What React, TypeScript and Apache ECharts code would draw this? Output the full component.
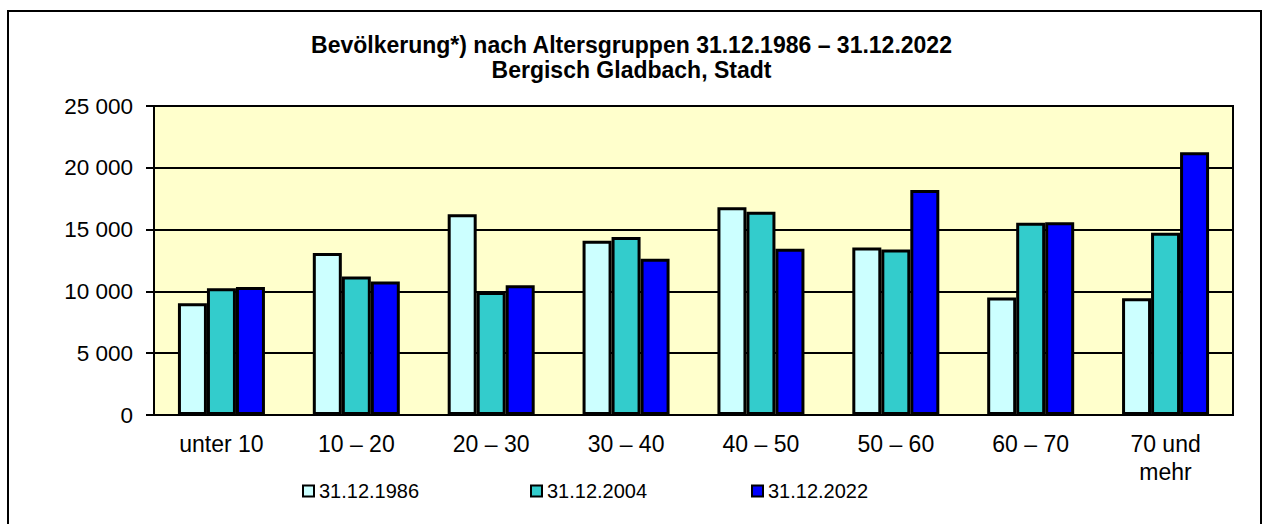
import React, { useEffect, useRef } from "react";
import * as echarts from "echarts";

const categories = ["unter 10", "10 – 20", "20 – 30", "30 – 40", "40 – 50", "50 – 60", "60 – 70", "70 und\nmehr"];
const seriesNames = ["31.12.1986", "31.12.2004", "31.12.2022"];
const values1986 = [9050, 13100, 16250, 14100, 16800, 13550, 9500, 9450];
const values2004 = [10250, 11200, 9950, 14400, 16450, 13400, 15550, 14750];
const values2022 = [10350, 10800, 10500, 12650, 13450, 18200, 15600, 21250];
const colors = ["#CCFFFF", "#33CCCC", "#0000FF"];
const yTicks = { min: 0, max: 25000, interval: 5000 };

const FONT = "'Liberation Sans', Arial, sans-serif";

export default function App() {
  const ref = useRef<HTMLDivElement>(null);
  useEffect(() => {
    if (!ref.current) return;
    const chart = echarts.init(ref.current, null, { renderer: "svg" });
    const data = [values1986, values2004, values2022];
    const legendLefts = [302, 530, 751];
    chart.setOption({
      animation: false,
      backgroundColor: "#FFFFFF",
      textStyle: { fontFamily: FONT },
      title: {
        text: "Bevölkerung*) nach Altersgruppen 31.12.1986 – 31.12.2022\nBergisch Gladbach, Stadt",
        left: "center",
        top: 32,
        padding: 0,
        textStyle: { fontFamily: FONT, fontSize: 23, fontWeight: "bold", color: "#000", lineHeight: 25 },
      },
      legend: seriesNames.map((n, i) => ({
        data: [n],
        left: legendLefts[i],
        top: 481,
        padding: 0,
        itemWidth: 11,
        itemHeight: 11,
        icon: "rect",
        textStyle: { fontFamily: FONT, fontSize: 20, color: "#000" },
      })),
      grid: {
        left: 154,
        right: 30,
        top: 106,
        bottom: 109,
        show: true,
        backgroundColor: "#FFFFCC",
        borderColor: "#000",
        borderWidth: 2,
      },
      xAxis: {
        type: "category",
        data: categories,
        axisLine: { show: true, lineStyle: { color: "#000", width: 2 } },
        axisTick: { show: false },
        axisLabel: { fontFamily: FONT, fontSize: 23, color: "#000", margin: 15, lineHeight: 28, interval: 0 },
      },
      yAxis: {
        type: "value",
        min: yTicks.min,
        max: yTicks.max,
        interval: yTicks.interval,
        axisLine: { show: true, lineStyle: { color: "#000", width: 2 } },
        axisTick: { show: true, inside: false, length: 8, lineStyle: { color: "#000", width: 2 } },
        splitLine: { show: true, lineStyle: { color: "#000", width: 2 } },
        axisLabel: {
          fontFamily: FONT,
          fontSize: 22.5,
          color: "#000",
          margin: 21,
          formatter: (v: number) => (v === 0 ? "0" : `${v / 1000} 000`),
        },
      },
      series: seriesNames.map((n, i) => ({
        name: n,
        type: "bar",
        data: data[i],
        barWidth: 29,
        barGap: "0%",
        itemStyle: { color: colors[i], borderColor: "#000", borderWidth: 3 },
      })),
      graphic: [
        {
          type: "rect",
          shape: { x: 8, y: 11, width: 1253, height: 600 },
          style: { fill: "none", stroke: "#000", lineWidth: 2 },
          silent: true,
        },
      ],
    });
    return () => chart.dispose();
  }, []);
  return (
    <div
      ref={ref}
      style={{ position: "fixed", left: 0, top: 0, width: 1263, height: 524 }}
    />
  );
}
